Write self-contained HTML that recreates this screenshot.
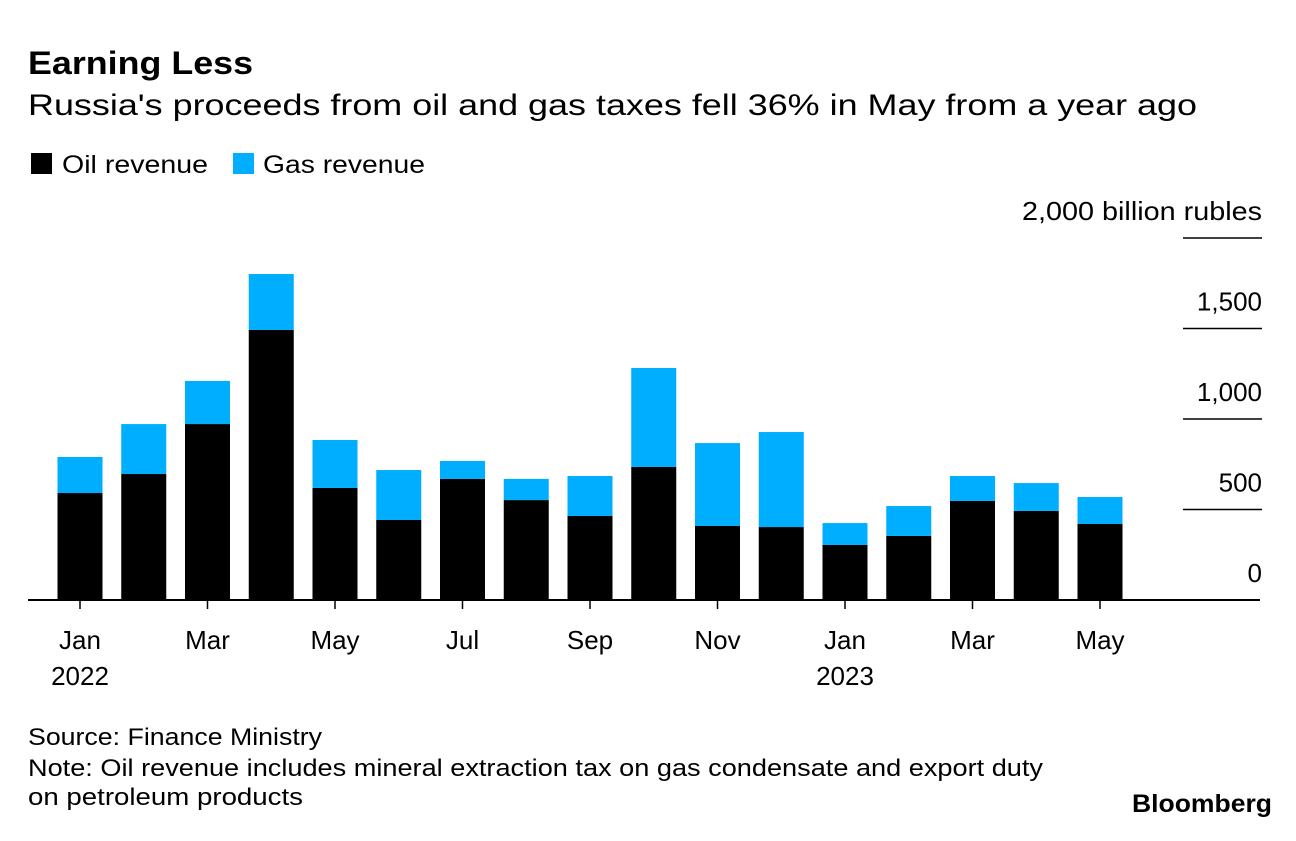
<!DOCTYPE html>
<html><head><meta charset="utf-8"><style>
body{margin:0;background:#fff;font-family:"Liberation Sans",sans-serif;}
svg text{font-family:"Liberation Sans",sans-serif;}
</style></head><body>
<svg width="1296" height="836">
<text x="28" y="74" font-size="32" font-weight="bold" textLength="225" lengthAdjust="spacingAndGlyphs">Earning Less</text>
<text x="28" y="115" font-size="30" textLength="1169" lengthAdjust="spacingAndGlyphs">Russia's proceeds from oil and gas taxes fell 36% in May from a year ago</text>
<g>
<rect x="31" y="153" width="21" height="21" fill="#000"/>
<text x="62" y="173" font-size="25" textLength="146" lengthAdjust="spacingAndGlyphs">Oil revenue</text>
<rect x="233" y="153" width="21" height="21" fill="#00aeff"/>
<text x="263" y="173" font-size="25" textLength="162" lengthAdjust="spacingAndGlyphs">Gas revenue</text>
</g>
<g id="plot"></g>
<text x="28" y="745" font-size="24" textLength="294" lengthAdjust="spacingAndGlyphs">Source: Finance Ministry</text>
<text x="28" y="776" font-size="24" textLength="1015" lengthAdjust="spacingAndGlyphs">Note: Oil revenue includes mineral extraction tax on gas condensate and export duty</text>
<text x="28" y="805" font-size="24" textLength="275" lengthAdjust="spacingAndGlyphs">on petroleum products</text>
<text x="1132" y="812" font-size="25" font-weight="bold" textLength="140" lengthAdjust="spacingAndGlyphs">Bloomberg</text>
</svg>
<script>
const months = ["Jan","Feb","Mar","Apr","May","Jun","Jul","Aug","Sep","Oct","Nov","Dec","Jan","Feb","Mar","Apr","May"];
const oil = [591,696,972,1492,619,442,669,552,464,735,409,403,304,354,547,492,420];
const gas = [199,276,238,309,265,276,99,117,221,547,458,525,121,165,138,154,149];
const yTicks = [0,500,1000,1500,2000];
const ns="http://www.w3.org/2000/svg";
const g=document.getElementById('plot');
const y0=600, pxPer=0.181;
const yScale=v=>y0-v*pxPer;
const xScale=i=>80+i*63.75;
const bw=45;
function mk(t,a){const e=document.createElementNS(ns,t);for(const k in a)e.setAttribute(k,a[k]);g.appendChild(e);return e;}
yTicks.forEach((v,i)=>{
  const y=yScale(v);
  if(v>0){const l=mk('line',{x1:1183,x2:1262,y1:y,y2:y,stroke:'#000','stroke-width':1.5});
  
  }
  const t=mk('text',{x:1262,y:y-18,'font-size':26,'text-anchor':'end'});
  t.textContent = v===2000 ? '2,000 billion rubles' : v.toLocaleString('en-US');
  if(v===2000){t.setAttribute('textLength','240');t.setAttribute('lengthAdjust','spacingAndGlyphs');}
  
  
});
months.forEach((m,i)=>{
  const x=xScale(i);
  const r1=mk('rect',{x:x-bw/2,y:yScale(oil[i]),width:bw,height:oil[i]*pxPer,fill:'#000'});
  
  
  const r2=mk('rect',{x:x-bw/2,y:yScale(oil[i]+gas[i]),width:bw,height:gas[i]*pxPer,fill:'#00aeff'});
  
  
  if(i%2===0){
    const tk=mk('line',{x1:x,x2:x,y1:y0,y2:y0+9,stroke:'#000','stroke-width':1.5});
    
    
    const t=mk('text',{x:x,y:649,'font-size':26,'text-anchor':'middle'});
    t.textContent=m;
    
    
  }
});
[[0,'2022'],[12,'2023']].forEach(([i,yr])=>{
  const t=mk('text',{x:xScale(i),y:685,'font-size':26,'text-anchor':'middle'});
  t.textContent=yr;
  
  
});
const base=mk('line',{x1:28,x2:1260,y1:y0,y2:y0,stroke:'#000','stroke-width':2});


</script>
</body></html>
